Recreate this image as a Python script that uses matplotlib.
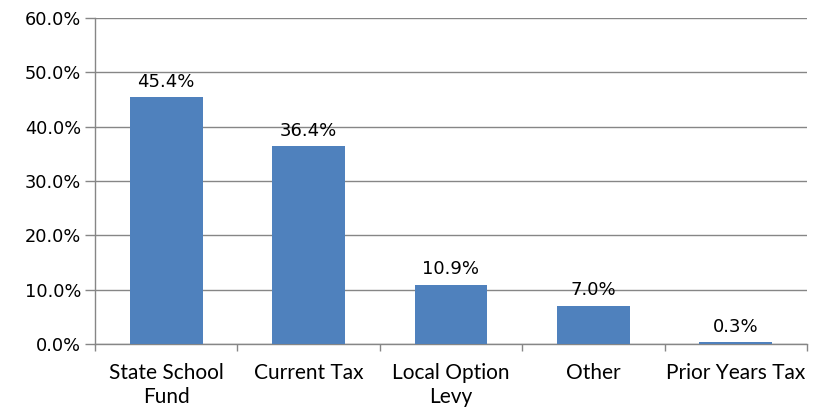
import matplotlib
matplotlib.use("Agg")
import matplotlib.pyplot as plt
import numpy as np
from matplotlib.ticker import FixedLocator, NullFormatter

categories = ["State School\nFund", "Current Tax", "Local Option\nLevy", "Other", "Prior Years Tax"]
values = [45.4, 36.4, 10.9, 7.0, 0.3]
yticks = [0, 10, 20, 30, 40, 50, 60]

bar_color = "#4F81BD"
axis_color = "#868686"

fig = plt.figure(figsize=(8.18, 4.13), dpi=100)
ax = fig.add_axes([95 / 818, 1 - 344 / 413, (807 - 95) / 818, (344 - 18) / 413])

x = np.arange(len(categories))
ax.bar(x, values, width=0.51, color=bar_color, zorder=3)

for xi, v in zip(x, values):
    ax.text(xi, v + 1.2, f"{v:.1f}%", ha="center", va="bottom", fontsize=13,
            family="DejaVu Sans", color="black")

ax.set_xlim(-0.5, len(categories) - 0.5)
ax.set_ylim(0, 60)
ax.set_yticks(yticks)
ax.set_yticklabels([f"{t:.1f}%" for t in yticks], fontsize=12.8, family="DejaVu Sans")
ax.yaxis.grid(True, color=axis_color, linewidth=1, zorder=0)
ax.tick_params(axis="y", length=7, color=axis_color, width=1, pad=3)

# category boundaries carry the tick marks; labels sit at the bar centres
ax.xaxis.set_major_locator(FixedLocator(np.arange(-0.5, len(categories), 1.0)))
ax.xaxis.set_major_formatter(NullFormatter())
ax.xaxis.set_minor_locator(FixedLocator(x))
labels = ax.set_xticklabels(categories, minor=True, fontsize=15, family="Lato")
for lab in labels:
    lab.set_linespacing(1.2)
ax.tick_params(axis="x", which="major", length=5, color=axis_color, width=1)
ax.tick_params(axis="x", which="minor", length=0, pad=14)

for side in ("top", "right"):
    ax.spines[side].set_visible(False)
for side in ("left", "bottom"):
    ax.spines[side].set_color(axis_color)
    ax.spines[side].set_linewidth(1)

fig.savefig("out.png", dpi=100)
